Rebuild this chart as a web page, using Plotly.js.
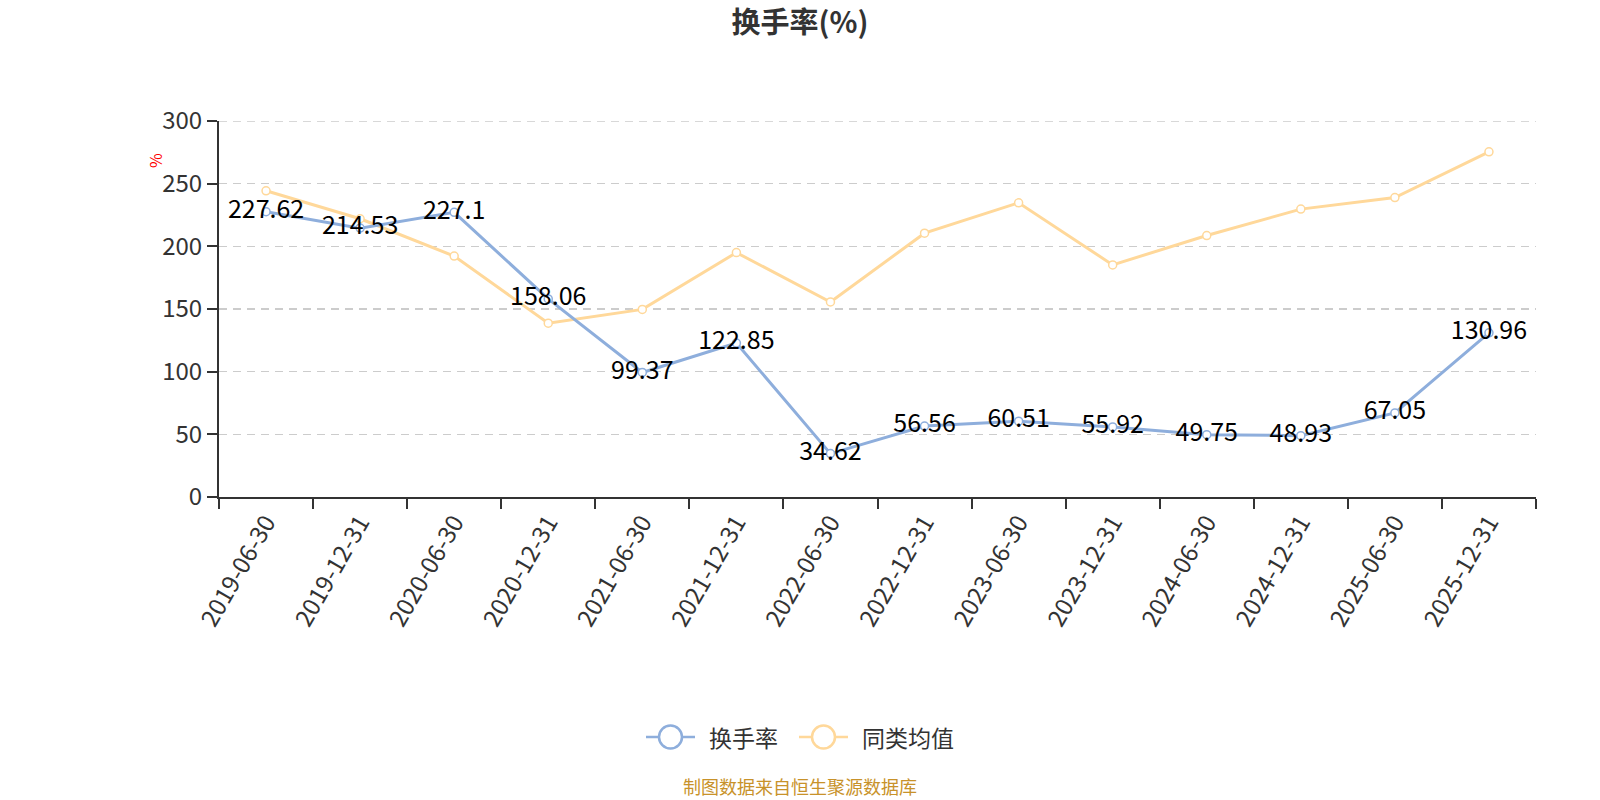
<!DOCTYPE html>
<html>
<head>
<meta charset="utf-8">
<script src="https://cdn.plot.ly/plotly-3.0.1.min.js"></script>
<style>
html,body{margin:0;padding:0;background:#fff;}
#chart{width:1600px;height:800px;}
</style>
</head>
<body>
<div id="chart"></div>
<script>
const categories = ["2019-06-30","2019-12-31","2020-06-30","2020-12-31","2021-06-30","2021-12-31","2022-06-30","2022-12-31","2023-06-30","2023-12-31","2024-06-30","2024-12-31","2025-06-30","2025-12-31"];
const turnover = [227.62,214.53,227.1,158.06,99.37,122.85,34.62,56.56,60.51,55.92,49.75,48.93,67.05,130.96];
const peerAvg = [244.3,222.0,192.2,138.7,149.7,195.0,155.6,210.5,234.7,185.2,208.6,229.7,238.9,275.4];
const seriesNames = ["换手率","同类均值"];
const titleText = "换手率(%)";
const unitText = "%";
const sourceText = "制图数据来自恒生聚源数据库";

const FONT = "Noto Sans CJK SC, Noto Sans, sans-serif";
const BLUE = "#8eaedc";
const YELLOW = "#ffd89a";

const W = 1600, H = 800;
const M = {l: 219, r: 64, t: 121, b: 303};
const PW = W - M.l - M.r, PH = H - M.t - M.b;
const px = x => (x - M.l) / PW;       // pixel -> paper x
const py = y => (H - M.b - y) / PH;   // pixel -> paper y

const traces = [
  {
    x: categories, y: peerAvg, name: seriesNames[1], type: "scatter", mode: "lines+markers",
    line: {color: YELLOW, width: 3},
    marker: {size: 8, color: "#ffffff", line: {color: YELLOW, width: 1.5}},
    cliponaxis: false, showlegend: false
  },
  {
    x: categories, y: turnover, name: seriesNames[0], type: "scatter", mode: "lines+markers+text",
    line: {color: BLUE, width: 3},
    marker: {size: 8, color: "#ffffff", line: {color: BLUE, width: 1.5}},
    text: turnover.map(v => String(v)), textposition: "middle center",
    textfont: {family: FONT, size: 25, color: "#000000"},
    cliponaxis: false, showlegend: false
  }
];

// manual legend (line + big hollow circle + label)
const legendItems = [
  {name: seriesNames[0], color: BLUE, x0: 646, label: 707},
  {name: seriesNames[1], color: YELLOW, x0: 799, label: 860}
];
const legY = 737;
const shapes = [];
const annotations = [];
legendItems.forEach(it => {
  shapes.push({type: "line", xref: "paper", yref: "paper", x0: px(it.x0), x1: px(it.x0 + 49),
               y0: py(legY), y1: py(legY), line: {color: it.color, width: 2.5}});
  shapes.push({type: "circle", xref: "paper", yref: "paper", x0: px(it.x0 + 13), x1: px(it.x0 + 36),
               y0: py(legY + 11.5), y1: py(legY - 11.5), fillcolor: "#ffffff",
               line: {color: it.color, width: 2.5}});
  annotations.push({text: it.name, xref: "paper", yref: "paper", x: px(it.label), xanchor: "left",
                    y: py(legY), yanchor: "middle", showarrow: false,
                    font: {family: FONT, size: 23, color: "#333333"}});
});
// dashed grid line at the top value (edge of range)
shapes.push({type: "line", xref: "paper", yref: "y", x0: 0, x1: 1, y0: 300, y1: 300,
             line: {color: "#cccccc", width: 1.5, dash: "8px,6px"}, layer: "below"});

annotations.push({text: unitText, xref: "paper", yref: "paper", x: px(155), xanchor: "center",
                  y: py(161), yanchor: "middle", textangle: -90, showarrow: false,
                  font: {family: FONT, size: 16, color: "#ff0000"}});
annotations.push({text: sourceText, xref: "paper", yref: "paper", x: px(800), xanchor: "center",
                  y: py(786), yanchor: "middle", showarrow: false,
                  font: {family: FONT, size: 18, color: "#c8922a"}});

const layout = {
  width: W, height: H,
  paper_bgcolor: "#ffffff", plot_bgcolor: "#ffffff",
  margin: {l: M.l, r: M.r, t: M.t, b: M.b, pad: 0},
  font: {family: FONT, color: "#333333"},
  title: {text: "<b>" + titleText + "</b>", x: 0.5, xanchor: "center", y: 0.972, yanchor: "middle",
          font: {family: FONT, size: 29, color: "#333333"}},
  showlegend: false,
  xaxis: {
    type: "category", range: [-0.5, 13.5], tickson: "boundaries",
    showline: true, linecolor: "#333333", linewidth: 2,
    ticks: "outside", ticklen: 10, tickcolor: "#333333", tickwidth: 2,
    tickangle: -60, tickfont: {family: FONT, size: 24, color: "#333333"},
    showgrid: false, zeroline: false, fixedrange: true
  },
  yaxis: {
    range: [0, 300], tickvals: [0,50,100,150,200,250,300],
    showline: true, linecolor: "#333333", linewidth: 2,
    ticks: "outside", ticklen: 10, tickcolor: "#333333", tickwidth: 2,
    tickfont: {family: FONT, size: 24, color: "#333333"},
    showgrid: true, gridcolor: "#cccccc", griddash: "8px,6px", gridwidth: 1.5,
    zeroline: false, fixedrange: true
  },
  shapes: shapes,
  annotations: annotations
};

Plotly.newPlot("chart", traces, layout, {displayModeBar: false, staticPlot: true});
</script>
</body>
</html>
